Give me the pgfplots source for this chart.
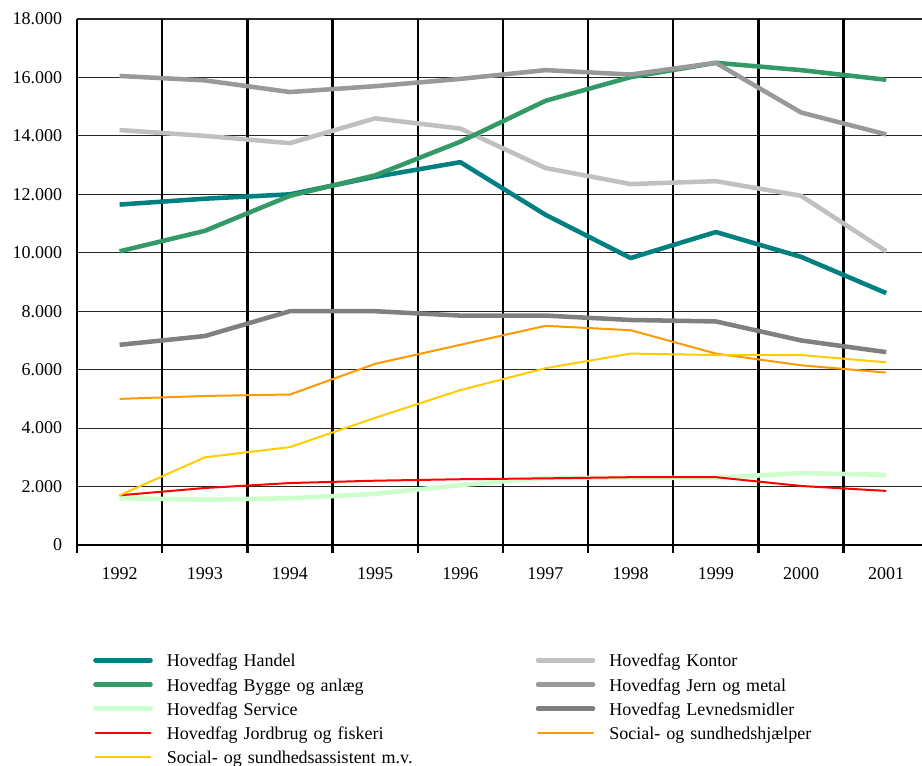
\documentclass[border=0pt]{standalone}
\usepackage{pgfplots}
\pgfplotsset{compat=1.18}
\usepackage{fontspec}
\setmainfont{Liberation Serif}
\definecolor{handel}{RGB}{0,128,128}
\definecolor{bygge}{RGB}{51,153,102}
\definecolor{service}{RGB}{204,255,204}
\definecolor{jord}{RGB}{255,0,0}
\definecolor{assist}{RGB}{255,204,0}
\definecolor{kontor}{RGB}{192,192,192}
\definecolor{jern}{RGB}{153,153,153}
\definecolor{levned}{RGB}{128,128,128}
\definecolor{hjaelper}{RGB}{255,153,0}
\begin{document}
\begin{tikzpicture}
\useasboundingbox (0,0) rectangle (691.5pt,574.5pt);
\begin{axis}[
  at={(57.75pt,165.75pt)}, anchor=south west,
  scale only axis, width=633.75pt, height=394.5pt,
  xmin=-0.5, xmax=9.42, ymin=0, ymax=18000,
  axis x line*=bottom, axis y line*=left,
  axis line style={black, line width=2pt, -},
  xtick={0,...,9},
  xticklabels={1992,1993,1994,1995,1996,1997,1998,1999,2000,2001},
  extra x ticks={-0.5,0.5,1.5,2.5,3.5,4.5,5.5,6.5,7.5,8.5},
  extra x tick labels={},
  extra x tick style={grid=major, major grid style={black, line width=1.8pt},
     major tick length=6pt, tick align=outside, tick style={black, line width=1.8pt}},
  ytick={0,2000,...,18000},
  ymajorgrids, major grid style={black!85, line width=0.8pt},
  major tick length=0pt,
  scaled ticks=false,
  yticklabel={\pgfmathprintnumber[fixed, 1000 sep={.}, assume math mode=true]{\tick}},
  yticklabel style={anchor=east, inner sep=0pt, xshift=-11pt},
  xticklabel style={anchor=north, inner sep=0pt, yshift=-17pt},
  tick label style={font=\fontsize{13.5}{16}\selectfont},
  legend columns=2,
  legend style={draw=none, fill=none, at={(0.0189,-0.2034)}, anchor=north west,
     font=\fontsize{13.5}{16}\selectfont, inner sep=0pt, row sep=0pt,
     nodes={inner xsep=0pt, inner ysep=0pt, text height=11pt, text depth=7.15pt, text width=276.75pt, align=left},
     /tikz/every odd column/.append style={column sep=10.5pt}},
  legend image code/.code={\draw[#1, line cap=round] (0pt,3pt) -- (41.25pt,3pt);},
  every axis plot/.append style={line join=round},
]
\addplot[handel, line width=3.4pt] coordinates {(0,11650) (1,11850) (2,12000) (3,12600) (4,13100) (5,11300) (6,9820) (7,10710) (8,9860) (9,8620)};
\addlegendentry{Hovedfag Handel}
\addplot[kontor, line width=3.4pt] coordinates {(0,14200) (1,14000) (2,13750) (3,14600) (4,14250) (5,12900) (6,12350) (7,12450) (8,11950) (9,10050)};
\addlegendentry{Hovedfag Kontor}
\addplot[bygge, line width=3.4pt] coordinates {(0,10050) (1,10750) (2,11950) (3,12650) (4,13800) (5,15200) (6,16010) (7,16500) (8,16250) (9,15920)};
\addlegendentry{Hovedfag Bygge og anlæg}
\addplot[jern, line width=3.4pt] coordinates {(0,16050) (1,15900) (2,15500) (3,15700) (4,15950) (5,16250) (6,16100) (7,16500) (8,14800) (9,14050)};
\addlegendentry{Hovedfag Jern og metal}
\addplot[service, line width=3.4pt] coordinates {(0,1600) (1,1550) (2,1600) (3,1750) (4,2050) (5,2300) (6,2300) (7,2300) (8,2460) (9,2400)};
\addlegendentry{Hovedfag Service}
\addplot[levned, line width=3.4pt] coordinates {(0,6850) (1,7150) (2,8000) (3,8000) (4,7850) (5,7850) (6,7700) (7,7650) (8,7000) (9,6600)};
\addlegendentry{Hovedfag Levnedsmidler}
\addplot[jord, line width=1.5pt] coordinates {(0,1700) (1,1950) (2,2120) (3,2200) (4,2250) (5,2280) (6,2320) (7,2320) (8,2020) (9,1850)};
\addlegendentry{Hovedfag Jordbrug og fiskeri}
\addplot[hjaelper, line width=1.5pt] coordinates {(0,5000) (1,5100) (2,5150) (3,6200) (4,6850) (5,7500) (6,7350) (7,6550) (8,6150) (9,5900)};
\addlegendentry{Social- og sundhedshjælper}
\addplot[assist, line width=1.5pt] coordinates {(0,1700) (1,3000) (2,3350) (3,4350) (4,5300) (5,6050) (6,6550) (7,6500) (8,6500) (9,6250)};
\addlegendentry{Social- og sundhedsassistent m.v.}
\end{axis}
\end{tikzpicture}
\end{document}
